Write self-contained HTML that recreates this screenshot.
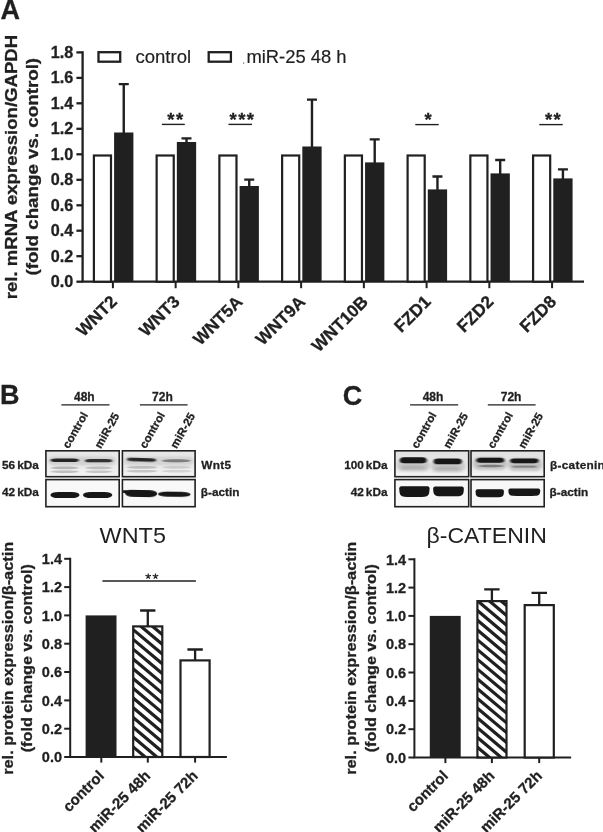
<!DOCTYPE html>
<html><head><meta charset="utf-8"><title>Figure</title>
<style>
html,body{margin:0;padding:0;background:#fff;}
body{width:603px;height:832px;overflow:hidden;font-family:"Liberation Sans",sans-serif;}
svg{display:block;position:absolute;left:0;top:0;}
text{font-family:"Liberation Sans",sans-serif;fill:#231f20;}
.b{font-weight:bold;stroke:#231f20;stroke-width:0.3px;}
svg{filter:grayscale(1);}
</style></head><body>
<svg width="603" height="832" viewBox="0 0 603 832">
<defs>
<filter id="bl1" x="-20%" y="-100%" width="140%" height="300%"><feGaussianBlur stdDeviation="1.1 0.7"/></filter>
<filter id="bl2" x="-20%" y="-100%" width="140%" height="300%"><feGaussianBlur stdDeviation="1.6 1.2"/></filter>
<filter id="bl3" x="-20%" y="-100%" width="140%" height="300%"><feGaussianBlur stdDeviation="0.7 0.5"/></filter>
<clipPath id="clipB"><rect x="45.9" y="450.8" width="73.3" height="25.9"/><rect x="122.4" y="450.8" width="72.7" height="25.9"/><rect x="45.9" y="479.6" width="73.3" height="26.9"/><rect x="122.4" y="479.6" width="72.7" height="26.9"/></clipPath>
<clipPath id="clipC"><rect x="394.9" y="450.8" width="73.8" height="25.9"/><rect x="471.0" y="450.8" width="73.2" height="25.9"/><rect x="394.9" y="479.6" width="73.8" height="26.9"/><rect x="471.0" y="479.6" width="73.2" height="26.9"/></clipPath>
<linearGradient id="gB" x1="0" y1="0" x2="0" y2="1"><stop offset="0" stop-color="#e6e6e6"/><stop offset="0.55" stop-color="#eaeaea"/><stop offset="1" stop-color="#f3f3f3"/></linearGradient>
<linearGradient id="gC" x1="0" y1="0" x2="0" y2="1"><stop offset="0" stop-color="#e2e2e2"/><stop offset="0.6" stop-color="#e6e6e6"/><stop offset="1" stop-color="#f6f6f6"/></linearGradient>
</defs>
<rect width="603" height="832" fill="#fff"/>

<text class="b" x="0.4" y="19.4" font-size="27">A</text>
<text class="b" font-size="16.5" textLength="264.3" lengthAdjust="spacingAndGlyphs" transform="translate(16.8 299.2) rotate(-90)">rel. mRNA expression/GAPDH</text>
<text class="b" font-size="16.5" textLength="217.7" lengthAdjust="spacingAndGlyphs" transform="translate(37.9 275.6) rotate(-90)">(fold change vs. control)</text>
<path d="M82.6 51.3 V281.7 H584" fill="none" stroke="#231f20" stroke-width="2.3" stroke-linejoin="miter"/>
<line x1="76.4" y1="281.7" x2="82.6" y2="281.7" stroke="#231f20" stroke-width="2.3"/>
<text class="b" font-size="16.2" text-anchor="end" x="73.3" y="287.2">0.0</text>
<line x1="76.4" y1="256.2" x2="82.6" y2="256.2" stroke="#231f20" stroke-width="2.3"/>
<text class="b" font-size="16.2" text-anchor="end" x="73.3" y="261.7">0.2</text>
<line x1="76.4" y1="230.7" x2="82.6" y2="230.7" stroke="#231f20" stroke-width="2.3"/>
<text class="b" font-size="16.2" text-anchor="end" x="73.3" y="236.2">0.4</text>
<line x1="76.4" y1="205.3" x2="82.6" y2="205.3" stroke="#231f20" stroke-width="2.3"/>
<text class="b" font-size="16.2" text-anchor="end" x="73.3" y="210.8">0.6</text>
<line x1="76.4" y1="179.8" x2="82.6" y2="179.8" stroke="#231f20" stroke-width="2.3"/>
<text class="b" font-size="16.2" text-anchor="end" x="73.3" y="185.3">0.8</text>
<line x1="76.4" y1="154.3" x2="82.6" y2="154.3" stroke="#231f20" stroke-width="2.3"/>
<text class="b" font-size="16.2" text-anchor="end" x="73.3" y="159.8">1.0</text>
<line x1="76.4" y1="128.8" x2="82.6" y2="128.8" stroke="#231f20" stroke-width="2.3"/>
<text class="b" font-size="16.2" text-anchor="end" x="73.3" y="134.3">1.2</text>
<line x1="76.4" y1="103.3" x2="82.6" y2="103.3" stroke="#231f20" stroke-width="2.3"/>
<text class="b" font-size="16.2" text-anchor="end" x="73.3" y="108.8">1.4</text>
<line x1="76.4" y1="77.9" x2="82.6" y2="77.9" stroke="#231f20" stroke-width="2.3"/>
<text class="b" font-size="16.2" text-anchor="end" x="73.3" y="83.4">1.6</text>
<line x1="76.4" y1="52.4" x2="82.6" y2="52.4" stroke="#231f20" stroke-width="2.3"/>
<text class="b" font-size="16.2" text-anchor="end" x="73.3" y="57.9">1.8</text>
<rect x="98.5" y="52.2" width="21.7" height="9.5" fill="#fff" stroke="#231f20" stroke-width="2.3"/>
<text font-size="18.5" x="135.5" y="62.7" stroke="#231f20" stroke-width="0.2">control</text>
<rect x="208.7" y="52.2" width="22.2" height="9.5" fill="#fff" stroke="#231f20" stroke-width="2.3"/>
<text font-size="18.4" x="246.4" y="62.7" stroke="#231f20" stroke-width="0.2">miR-25 48 h</text>
<rect x="243.2" y="62.6" width="1" height="1" fill="#231f20"/>
<rect x="93.90" y="155.50" width="17.10" height="126.20" fill="#fff" stroke="#231f20" stroke-width="2.2"/>
<rect x="114.10" y="132.50" width="19.30" height="149.20" fill="#231f20"/>
<path d="M123.75 133.50 V83.50 M118.75 84.10 H128.75" stroke="#231f20" stroke-width="2.4" fill="none"/>
<line x1="112.90" y1="281.7" x2="112.90" y2="288.2" stroke="#231f20" stroke-width="2"/>
<text class="b" font-size="17.3" text-anchor="end" transform="translate(118.10 302.8) rotate(-45)">WNT2</text>
<rect x="156.64" y="155.50" width="17.10" height="126.20" fill="#fff" stroke="#231f20" stroke-width="2.2"/>
<rect x="176.84" y="142.00" width="19.30" height="139.70" fill="#231f20"/>
<path d="M186.49 143.00 V137.80 M181.49 138.40 H191.49" stroke="#231f20" stroke-width="2.4" fill="none"/>
<line x1="175.64" y1="281.7" x2="175.64" y2="288.2" stroke="#231f20" stroke-width="2"/>
<text class="b" font-size="17.3" text-anchor="end" transform="translate(180.84 302.8) rotate(-45)">WNT3</text>
<rect x="219.38" y="155.50" width="17.10" height="126.20" fill="#fff" stroke="#231f20" stroke-width="2.2"/>
<rect x="239.58" y="186.00" width="19.30" height="95.70" fill="#231f20"/>
<path d="M249.23 187.00 V179.00 M244.23 179.60 H254.23" stroke="#231f20" stroke-width="2.4" fill="none"/>
<line x1="238.38" y1="281.7" x2="238.38" y2="288.2" stroke="#231f20" stroke-width="2"/>
<text class="b" font-size="17.3" text-anchor="end" transform="translate(243.58 302.8) rotate(-45)">WNT5A</text>
<rect x="282.12" y="155.50" width="17.10" height="126.20" fill="#fff" stroke="#231f20" stroke-width="2.2"/>
<rect x="302.32" y="146.50" width="19.30" height="135.20" fill="#231f20"/>
<path d="M311.97 147.50 V99.00 M306.97 99.60 H316.97" stroke="#231f20" stroke-width="2.4" fill="none"/>
<line x1="301.12" y1="281.7" x2="301.12" y2="288.2" stroke="#231f20" stroke-width="2"/>
<text class="b" font-size="17.3" text-anchor="end" transform="translate(306.32 302.8) rotate(-45)">WNT9A</text>
<rect x="344.86" y="155.50" width="17.10" height="126.20" fill="#fff" stroke="#231f20" stroke-width="2.2"/>
<rect x="365.06" y="162.40" width="19.30" height="119.30" fill="#231f20"/>
<path d="M374.71 163.40 V138.80 M369.71 139.40 H379.71" stroke="#231f20" stroke-width="2.4" fill="none"/>
<line x1="363.86" y1="281.7" x2="363.86" y2="288.2" stroke="#231f20" stroke-width="2"/>
<text class="b" font-size="17.3" text-anchor="end" transform="translate(369.06 302.8) rotate(-45)">WNT10B</text>
<rect x="407.60" y="155.50" width="17.10" height="126.20" fill="#fff" stroke="#231f20" stroke-width="2.2"/>
<rect x="427.80" y="189.40" width="19.30" height="92.30" fill="#231f20"/>
<path d="M437.45 190.40 V175.90 M432.45 176.50 H442.45" stroke="#231f20" stroke-width="2.4" fill="none"/>
<line x1="426.60" y1="281.7" x2="426.60" y2="288.2" stroke="#231f20" stroke-width="2"/>
<text class="b" font-size="17.3" text-anchor="end" transform="translate(431.80 302.8) rotate(-45)">FZD1</text>
<rect x="470.34" y="155.50" width="17.10" height="126.20" fill="#fff" stroke="#231f20" stroke-width="2.2"/>
<rect x="490.54" y="173.40" width="19.30" height="108.30" fill="#231f20"/>
<path d="M500.19 174.40 V159.40 M495.19 160.00 H505.19" stroke="#231f20" stroke-width="2.4" fill="none"/>
<line x1="489.34" y1="281.7" x2="489.34" y2="288.2" stroke="#231f20" stroke-width="2"/>
<text class="b" font-size="17.3" text-anchor="end" transform="translate(494.54 302.8) rotate(-45)">FZD2</text>
<rect x="533.08" y="155.50" width="17.10" height="126.20" fill="#fff" stroke="#231f20" stroke-width="2.2"/>
<rect x="553.28" y="178.40" width="19.30" height="103.30" fill="#231f20"/>
<path d="M562.93 179.40 V168.80 M557.93 169.40 H567.93" stroke="#231f20" stroke-width="2.4" fill="none"/>
<line x1="552.08" y1="281.7" x2="552.08" y2="288.2" stroke="#231f20" stroke-width="2"/>
<text class="b" font-size="17.3" text-anchor="end" transform="translate(557.28 302.8) rotate(-45)">FZD8</text>
<line x1="161.9" y1="124.4" x2="184.8" y2="124.4" stroke="#231f20" stroke-width="1.4"/>
<text class="b" font-size="18.5" letter-spacing="1.4" text-anchor="middle" x="175.9" y="125.5">**</text>
<line x1="228.5" y1="124.4" x2="252.0" y2="124.4" stroke="#231f20" stroke-width="1.4"/>
<text class="b" font-size="18.5" letter-spacing="1.4" text-anchor="middle" x="242.5" y="125.5">***</text>
<line x1="415.3" y1="124.6" x2="438.7" y2="124.6" stroke="#231f20" stroke-width="1.4"/>
<text class="b" font-size="18.5" letter-spacing="1.4" text-anchor="middle" x="428.9" y="125.5">*</text>
<line x1="539.3" y1="124.6" x2="562.7" y2="124.6" stroke="#231f20" stroke-width="1.4"/>
<text class="b" font-size="18.5" letter-spacing="1.4" text-anchor="middle" x="553.6" y="125.5">**</text>
<text class="b" x="0" y="404.3" font-size="27">B</text>
<text class="b" x="342.8" y="405.2" font-size="27">C</text>
<g transform="translate(0.0 0)">
<text class="b" font-size="12" text-anchor="middle" x="84.3" y="401.3">48h</text>
<line x1="61.4" y1="404.9" x2="109.5" y2="404.9" stroke="#231f20" stroke-width="1.3"/>
<text class="b" font-size="12" text-anchor="middle" x="162.4" y="401.3">72h</text>
<line x1="139.9" y1="404.9" x2="187.6" y2="404.9" stroke="#231f20" stroke-width="1.3"/>
<text class="b" font-size="11.3" textLength="39.5" lengthAdjust="spacingAndGlyphs" transform="translate(68.8 449.2) rotate(-60.5)">control</text>
<text class="b" font-size="11.3" textLength="38.5" lengthAdjust="spacingAndGlyphs" transform="translate(100.8 449.2) rotate(-60.5)">miR-25</text>
<text class="b" font-size="11.3" textLength="39.5" lengthAdjust="spacingAndGlyphs" transform="translate(145.8 449.2) rotate(-60.5)">control</text>
<text class="b" font-size="11.3" textLength="38.5" lengthAdjust="spacingAndGlyphs" transform="translate(176.5 449.2) rotate(-60.5)">miR-25</text>
<text class="b" font-size="11.8" text-anchor="end" word-spacing="-1.3" x="38.8" y="469.2">56 kDa</text>
<text class="b" font-size="11.8" text-anchor="end" word-spacing="-1.3" x="38.8" y="495.9">42 kDa</text>
<text class="b" font-size="11.8" letter-spacing="0.3" x="201.3" y="469.2">Wnt5</text>
<text class="b" font-size="11.8" x="200.8" y="495.9">β-actin</text>
</g>
<g transform="translate(348.7 0)">
<text class="b" font-size="12" text-anchor="middle" x="84.3" y="401.3">48h</text>
<line x1="61.4" y1="404.9" x2="109.5" y2="404.9" stroke="#231f20" stroke-width="1.3"/>
<text class="b" font-size="12" text-anchor="middle" x="162.4" y="401.3">72h</text>
<line x1="139.1" y1="404.9" x2="186.9" y2="404.9" stroke="#231f20" stroke-width="1.3"/>
<text class="b" font-size="11.3" textLength="39.5" lengthAdjust="spacingAndGlyphs" transform="translate(68.8 449.2) rotate(-60.5)">control</text>
<text class="b" font-size="11.3" textLength="38.5" lengthAdjust="spacingAndGlyphs" transform="translate(100.8 449.2) rotate(-60.5)">miR-25</text>
<text class="b" font-size="11.3" textLength="39.5" lengthAdjust="spacingAndGlyphs" transform="translate(145.1 449.2) rotate(-60.5)">control</text>
<text class="b" font-size="11.3" textLength="38.5" lengthAdjust="spacingAndGlyphs" transform="translate(175.8 449.2) rotate(-60.5)">miR-25</text>
<text class="b" font-size="11.8" text-anchor="end" word-spacing="-1.3" x="38.8" y="469.2">100 kDa</text>
<text class="b" font-size="11.8" text-anchor="end" word-spacing="-1.3" x="38.8" y="495.9">42 kDa</text>
<text class="b" font-size="11.8" letter-spacing="0.3" x="201.3" y="469.2">β-catenin</text>
<text class="b" font-size="11.8" x="200.8" y="495.9">β-actin</text>
</g>
<rect x="45.9" y="450.8" width="73.3" height="25.9" fill="url(#gB)"/>
<rect x="122.4" y="450.8" width="72.7" height="25.9" fill="url(#gB)"/>
<rect x="45.9" y="479.6" width="73.3" height="27.1" fill="#f8f8f8"/>
<rect x="122.4" y="479.6" width="72.7" height="27.1" fill="#f8f8f8"/>
<g clip-path="url(#clipB)">
<rect x="48.0" y="456.5" width="68.0" height="9.0" rx="6.0" ry="4.5" fill="#000" opacity="0.10" filter="url(#bl2)"/>
<rect x="124.0" y="456.5" width="70.0" height="9.0" rx="6.0" ry="4.5" fill="#000" opacity="0.09" filter="url(#bl2)"/>
<rect x="50.6" y="458.5" width="28.2" height="3.6" rx="5.0" ry="1.8" fill="#151515" opacity="0.92" filter="url(#bl1)"/>
<rect x="85.0" y="459.0" width="27.2" height="3.3" rx="5.0" ry="1.6" fill="#151515" opacity="0.85" filter="url(#bl1)"/>
<rect x="127.0" y="458.0" width="29.2" height="3.4" rx="5.0" ry="1.7" fill="#151515" opacity="0.92" filter="url(#bl1)" transform="rotate(1.80 141.6 459.7)"/>
<rect x="161.8" y="459.2" width="28.7" height="3.0" rx="9.0" ry="1.5" fill="#151515" opacity="0.45" filter="url(#bl1)"/>
<rect x="51.0" y="466.6" width="27.5" height="2.6" rx="8.6" ry="1.3" fill="#222" opacity="0.26" filter="url(#bl1)"/>
<rect x="51.0" y="470.4" width="27.5" height="2.6" rx="8.6" ry="1.3" fill="#222" opacity="0.23" filter="url(#bl1)"/>
<rect x="85.5" y="466.6" width="26.5" height="2.6" rx="8.3" ry="1.3" fill="#222" opacity="0.22" filter="url(#bl1)"/>
<rect x="85.5" y="470.4" width="26.5" height="2.6" rx="8.3" ry="1.3" fill="#222" opacity="0.20" filter="url(#bl1)"/>
<rect x="127.0" y="466.1" width="30.0" height="2.6" rx="9.0" ry="1.3" fill="#222" opacity="0.22" filter="url(#bl1)"/>
<rect x="127.0" y="469.9" width="30.0" height="2.6" rx="9.0" ry="1.3" fill="#222" opacity="0.20" filter="url(#bl1)"/>
<rect x="162.5" y="466.1" width="28.5" height="2.6" rx="8.9" ry="1.3" fill="#222" opacity="0.14" filter="url(#bl1)"/>
<rect x="162.5" y="469.9" width="28.5" height="2.6" rx="8.9" ry="1.3" fill="#222" opacity="0.13" filter="url(#bl1)"/>
<rect x="50.4" y="491.9" width="29.1" height="6.2" rx="8.0" ry="3.1" fill="#151515" opacity="1.00" filter="url(#bl3)"/>
<rect x="83.0" y="491.9" width="29.3" height="6.2" rx="8.0" ry="3.1" fill="#151515" opacity="1.00" filter="url(#bl3)"/>
<rect x="125.0" y="490.1" width="32.2" height="6.8" rx="8.0" ry="3.4" fill="#151515" opacity="1.00" filter="url(#bl3)" transform="rotate(1.00 141.1 493.5)"/>
<rect x="122.0" y="490.3" width="12.0" height="2.6" rx="2.0" ry="1.3" fill="#151515" opacity="1.00" filter="url(#bl3)"/>
<rect x="158.0" y="491.8" width="32.6" height="5.0" rx="9.0" ry="2.5" fill="#151515" opacity="1.00" filter="url(#bl3)" transform="rotate(0.80 174.3 494.3)"/>
</g>
<rect x="45.9" y="450.8" width="73.3" height="25.9" fill="none" stroke="#231f20" stroke-width="1.6"/>
<rect x="122.4" y="450.8" width="72.7" height="25.9" fill="none" stroke="#231f20" stroke-width="1.6"/>
<rect x="45.9" y="479.6" width="73.3" height="27.1" fill="none" stroke="#231f20" stroke-width="1.6"/>
<rect x="122.4" y="479.6" width="72.7" height="27.1" fill="none" stroke="#231f20" stroke-width="1.6"/>
<rect x="394.9" y="450.8" width="73.8" height="25.9" fill="url(#gC)"/>
<rect x="471.0" y="450.8" width="73.2" height="25.9" fill="url(#gC)"/>
<rect x="394.9" y="479.6" width="73.8" height="27.1" fill="#f8f8f8"/>
<rect x="471.0" y="479.6" width="73.2" height="27.1" fill="#f8f8f8"/>
<g clip-path="url(#clipC)">
<rect x="397.0" y="459.5" width="33.0" height="12.0" rx="6.0" ry="6.0" fill="#000" opacity="0.13" filter="url(#bl2)"/>
<rect x="431.0" y="460.5" width="34.0" height="12.0" rx="6.0" ry="6.0" fill="#000" opacity="0.13" filter="url(#bl2)"/>
<rect x="473.0" y="457.0" width="34.0" height="13.0" rx="6.0" ry="6.5" fill="#000" opacity="0.16" filter="url(#bl2)"/>
<rect x="508.0" y="458.0" width="34.0" height="13.0" rx="6.0" ry="6.5" fill="#000" opacity="0.16" filter="url(#bl2)"/>
<rect x="399.8" y="457.3" width="26.8" height="6.0" rx="4.0" ry="3.0" fill="#151515" opacity="1.00" filter="url(#bl1)"/>
<rect x="433.6" y="458.6" width="28.2" height="5.6" rx="4.0" ry="2.8" fill="#151515" opacity="1.00" filter="url(#bl1)"/>
<rect x="400.0" y="465.6" width="26.0" height="4.0" rx="8.1" ry="2.0" fill="#000" opacity="0.12" filter="url(#bl2)"/>
<rect x="434.0" y="466.6" width="27.0" height="4.0" rx="8.4" ry="2.0" fill="#000" opacity="0.12" filter="url(#bl2)"/>
<rect x="476.4" y="457.8" width="27.8" height="5.0" rx="4.0" ry="2.5" fill="#151515" opacity="1.00" filter="url(#bl1)"/>
<rect x="510.2" y="458.4" width="28.3" height="4.8" rx="4.0" ry="2.4" fill="#151515" opacity="1.00" filter="url(#bl1)"/>
<rect x="478.0" y="464.8" width="25.5" height="2.4" rx="8.0" ry="1.2" fill="#111" opacity="0.38" filter="url(#bl1)"/>
<rect x="511.5" y="465.4" width="26.0" height="2.4" rx="8.1" ry="1.2" fill="#111" opacity="0.34" filter="url(#bl1)"/>
<path d="M399.3 488.3 Q399.3 486.3 401.3 486.3 H427.5 Q429.5 486.3 429.5 488.3 C429.5 495.8 428.0 496.9 422.3 496.9 H406.5 C400.8 496.9 399.3 495.8 399.3 488.3 Z" fill="#151515" opacity="1.00" filter="url(#bl3)"/>
<path d="M433.2 488.5 Q433.2 486.5 435.2 486.5 H461.8 Q463.8 486.5 463.8 488.5 C463.8 495.2 462.3 496.2 456.5 496.2 H440.5 C434.7 496.2 433.2 495.2 433.2 488.5 Z" fill="#151515" opacity="1.00" filter="url(#bl3)"/>
<path d="M475.6 491.2 Q475.6 489.2 477.6 489.2 H501.9 Q503.9 489.2 503.9 491.2 C503.9 496.4 502.5 497.2 497.1 497.2 H482.4 C477.0 497.2 475.6 496.4 475.6 491.2 Z" fill="#151515" opacity="1.00" filter="url(#bl3)"/>
<path d="M508.4 490.6 Q508.4 488.6 510.4 488.6 H538.2 Q540.2 488.6 540.2 490.6 C540.2 495.3 538.6 496.0 532.6 496.0 H516.0 C510.0 496.0 508.4 495.3 508.4 490.6 Z" fill="#151515" opacity="1.00" filter="url(#bl3)"/>
</g>
<rect x="394.9" y="450.8" width="73.8" height="25.9" fill="none" stroke="#231f20" stroke-width="1.6"/>
<rect x="471.0" y="450.8" width="73.2" height="25.9" fill="none" stroke="#231f20" stroke-width="1.6"/>
<rect x="394.9" y="479.6" width="73.8" height="27.1" fill="none" stroke="#231f20" stroke-width="1.6"/>
<rect x="471.0" y="479.6" width="73.2" height="27.1" fill="none" stroke="#231f20" stroke-width="1.6"/>
<text font-size="22" x="99.6" y="542.8" textLength="66.3" lengthAdjust="spacingAndGlyphs">WNT5</text>
<text class="b" font-size="15" textLength="233" lengthAdjust="spacingAndGlyphs" transform="translate(12.8 774.8) rotate(-90)">rel. protein expression/β-actin</text>
<text class="b" font-size="15" textLength="188.1" lengthAdjust="spacingAndGlyphs" transform="translate(31.7 752.3) rotate(-90)">(fold change vs. control)</text>
<path d="M70.2 557.8 V757.0 H226.9" fill="none" stroke="#231f20" stroke-width="2"/>
<line x1="64.2" y1="757.0" x2="70.2" y2="757.0" stroke="#231f20" stroke-width="2"/>
<text class="b" font-size="14.5" text-anchor="end" x="62.0" y="762.2">0.0</text>
<line x1="64.2" y1="728.7" x2="70.2" y2="728.7" stroke="#231f20" stroke-width="2"/>
<text class="b" font-size="14.5" text-anchor="end" x="62.0" y="733.9">0.2</text>
<line x1="64.2" y1="700.4" x2="70.2" y2="700.4" stroke="#231f20" stroke-width="2"/>
<text class="b" font-size="14.5" text-anchor="end" x="62.0" y="705.6">0.4</text>
<line x1="64.2" y1="672.0" x2="70.2" y2="672.0" stroke="#231f20" stroke-width="2"/>
<text class="b" font-size="14.5" text-anchor="end" x="62.0" y="677.2">0.6</text>
<line x1="64.2" y1="643.7" x2="70.2" y2="643.7" stroke="#231f20" stroke-width="2"/>
<text class="b" font-size="14.5" text-anchor="end" x="62.0" y="648.9">0.8</text>
<line x1="64.2" y1="615.4" x2="70.2" y2="615.4" stroke="#231f20" stroke-width="2"/>
<text class="b" font-size="14.5" text-anchor="end" x="62.0" y="620.6">1.0</text>
<line x1="64.2" y1="587.1" x2="70.2" y2="587.1" stroke="#231f20" stroke-width="2"/>
<text class="b" font-size="14.5" text-anchor="end" x="62.0" y="592.3">1.2</text>
<line x1="64.2" y1="558.8" x2="70.2" y2="558.8" stroke="#231f20" stroke-width="2"/>
<text class="b" font-size="14.5" text-anchor="end" x="62.0" y="564.0">1.4</text>
<rect x="85.6" y="615.4" width="30.9" height="141.6" fill="#231f20"/>
<rect x="133.2" y="626.4" width="29.1" height="130.6" fill="#fff"/>
<clipPath id="hchatch"><rect x="133.2" y="626.4" width="29.1" height="130.6"/></clipPath>
<g clip-path="url(#hchatch)" stroke="#231f20" stroke-width="3.2" fill="none">
<line x1="124.2" y1="563.49" x2="174.2" y2="605.44"/>
<line x1="124.2" y1="573.26" x2="174.2" y2="615.21"/>
<line x1="124.2" y1="583.03" x2="174.2" y2="624.98"/>
<line x1="124.2" y1="592.80" x2="174.2" y2="634.75"/>
<line x1="124.2" y1="602.57" x2="174.2" y2="644.52"/>
<line x1="124.2" y1="612.34" x2="174.2" y2="654.29"/>
<line x1="124.2" y1="622.11" x2="174.2" y2="664.06"/>
<line x1="124.2" y1="631.88" x2="174.2" y2="673.83"/>
<line x1="124.2" y1="641.65" x2="174.2" y2="683.60"/>
<line x1="124.2" y1="651.42" x2="174.2" y2="693.37"/>
<line x1="124.2" y1="661.19" x2="174.2" y2="703.14"/>
<line x1="124.2" y1="670.96" x2="174.2" y2="712.91"/>
<line x1="124.2" y1="680.73" x2="174.2" y2="722.68"/>
<line x1="124.2" y1="690.50" x2="174.2" y2="732.45"/>
<line x1="124.2" y1="700.27" x2="174.2" y2="742.22"/>
<line x1="124.2" y1="710.04" x2="174.2" y2="751.99"/>
<line x1="124.2" y1="719.81" x2="174.2" y2="761.76"/>
<line x1="124.2" y1="729.58" x2="174.2" y2="771.53"/>
<line x1="124.2" y1="739.35" x2="174.2" y2="781.30"/>
<line x1="124.2" y1="749.12" x2="174.2" y2="791.07"/>
<line x1="124.2" y1="758.89" x2="174.2" y2="800.84"/>
<line x1="124.2" y1="768.66" x2="174.2" y2="810.61"/>
<line x1="124.2" y1="778.43" x2="174.2" y2="820.38"/>
</g>
<rect x="133.2" y="626.4" width="29.1" height="130.6" fill="none" stroke="#231f20" stroke-width="2.2"/>
<rect x="180.5" y="660.4" width="29.1" height="96.6" fill="#fff" stroke="#231f20" stroke-width="2.2"/>
<path d="M147.8 626.3 V609.7 M140.1 610.5 H155.4" stroke="#231f20" stroke-width="2.3" fill="none"/>
<path d="M195.1 660.3 V648.7 M187.4 649.5 H202.8" stroke="#231f20" stroke-width="2.3" fill="none"/>
<line x1="101.3" y1="757.0" x2="101.3" y2="762.6" stroke="#231f20" stroke-width="2"/>
<text class="b" font-size="15" text-anchor="end" transform="translate(104.9 776.8) rotate(-45)">control</text>
<line x1="147.8" y1="757.0" x2="147.8" y2="762.6" stroke="#231f20" stroke-width="2"/>
<text class="b" font-size="15" text-anchor="end" transform="translate(151.3 776.8) rotate(-45)">miR-25 48h</text>
<line x1="195.1" y1="757.0" x2="195.1" y2="762.6" stroke="#231f20" stroke-width="2"/>
<text class="b" font-size="15" text-anchor="end" transform="translate(198.7 776.8) rotate(-45)">miR-25 72h</text>
<line x1="102.4" y1="581.0" x2="195.9" y2="581.0" stroke="#231f20" stroke-width="1.4"/>
<path d="M148.20 576.30L148.20 573.40M148.20 576.30L150.96 575.40M148.20 576.30L149.90 578.65M148.20 576.30L146.50 578.65M148.20 576.30L145.44 575.40" stroke="#231f20" stroke-width="1.15" fill="none"/>
<path d="M155.50 576.30L155.50 573.40M155.50 576.30L158.26 575.40M155.50 576.30L157.20 578.65M155.50 576.30L153.80 578.65M155.50 576.30L152.74 575.40" stroke="#231f20" stroke-width="1.15" fill="none"/>
<text font-size="22" x="426.6" y="542.8" textLength="120.2" lengthAdjust="spacingAndGlyphs">β-CATENIN</text>
<text class="b" font-size="15" textLength="233" lengthAdjust="spacingAndGlyphs" transform="translate(356.4 774.8) rotate(-90)">rel. protein expression/β-actin</text>
<text class="b" font-size="15" textLength="188.1" lengthAdjust="spacingAndGlyphs" transform="translate(375.5 752.3) rotate(-90)">(fold change vs. control)</text>
<path d="M414.4 558.3 V757.5 H571.1" fill="none" stroke="#231f20" stroke-width="2"/>
<line x1="408.4" y1="757.5" x2="414.4" y2="757.5" stroke="#231f20" stroke-width="2"/>
<text class="b" font-size="14.5" text-anchor="end" x="406.2" y="762.7">0.0</text>
<line x1="408.4" y1="729.2" x2="414.4" y2="729.2" stroke="#231f20" stroke-width="2"/>
<text class="b" font-size="14.5" text-anchor="end" x="406.2" y="734.4">0.2</text>
<line x1="408.4" y1="700.9" x2="414.4" y2="700.9" stroke="#231f20" stroke-width="2"/>
<text class="b" font-size="14.5" text-anchor="end" x="406.2" y="706.1">0.4</text>
<line x1="408.4" y1="672.5" x2="414.4" y2="672.5" stroke="#231f20" stroke-width="2"/>
<text class="b" font-size="14.5" text-anchor="end" x="406.2" y="677.7">0.6</text>
<line x1="408.4" y1="644.2" x2="414.4" y2="644.2" stroke="#231f20" stroke-width="2"/>
<text class="b" font-size="14.5" text-anchor="end" x="406.2" y="649.4">0.8</text>
<line x1="408.4" y1="615.9" x2="414.4" y2="615.9" stroke="#231f20" stroke-width="2"/>
<text class="b" font-size="14.5" text-anchor="end" x="406.2" y="621.1">1.0</text>
<line x1="408.4" y1="587.6" x2="414.4" y2="587.6" stroke="#231f20" stroke-width="2"/>
<text class="b" font-size="14.5" text-anchor="end" x="406.2" y="592.8">1.2</text>
<line x1="408.4" y1="559.3" x2="414.4" y2="559.3" stroke="#231f20" stroke-width="2"/>
<text class="b" font-size="14.5" text-anchor="end" x="406.2" y="564.5">1.4</text>
<rect x="429.8" y="615.9" width="30.9" height="141.6" fill="#231f20"/>
<rect x="477.4" y="601.1" width="29.1" height="156.4" fill="#fff"/>
<clipPath id="hchatchC"><rect x="477.4" y="601.1" width="29.1" height="156.4"/></clipPath>
<g clip-path="url(#hchatchC)" stroke="#231f20" stroke-width="3.2" fill="none">
<line x1="468.3" y1="544.24" x2="518.3" y2="586.19"/>
<line x1="468.3" y1="554.01" x2="518.3" y2="595.96"/>
<line x1="468.3" y1="563.78" x2="518.3" y2="605.73"/>
<line x1="468.3" y1="573.55" x2="518.3" y2="615.50"/>
<line x1="468.3" y1="583.32" x2="518.3" y2="625.27"/>
<line x1="468.3" y1="593.09" x2="518.3" y2="635.04"/>
<line x1="468.3" y1="602.86" x2="518.3" y2="644.81"/>
<line x1="468.3" y1="612.63" x2="518.3" y2="654.58"/>
<line x1="468.3" y1="622.40" x2="518.3" y2="664.35"/>
<line x1="468.3" y1="632.17" x2="518.3" y2="674.12"/>
<line x1="468.3" y1="641.94" x2="518.3" y2="683.89"/>
<line x1="468.3" y1="651.71" x2="518.3" y2="693.66"/>
<line x1="468.3" y1="661.48" x2="518.3" y2="703.43"/>
<line x1="468.3" y1="671.25" x2="518.3" y2="713.20"/>
<line x1="468.3" y1="681.02" x2="518.3" y2="722.97"/>
<line x1="468.3" y1="690.79" x2="518.3" y2="732.74"/>
<line x1="468.3" y1="700.56" x2="518.3" y2="742.51"/>
<line x1="468.3" y1="710.33" x2="518.3" y2="752.28"/>
<line x1="468.3" y1="720.10" x2="518.3" y2="762.05"/>
<line x1="468.3" y1="729.87" x2="518.3" y2="771.82"/>
<line x1="468.3" y1="739.64" x2="518.3" y2="781.59"/>
<line x1="468.3" y1="749.41" x2="518.3" y2="791.36"/>
<line x1="468.3" y1="759.18" x2="518.3" y2="801.13"/>
<line x1="468.3" y1="768.95" x2="518.3" y2="810.90"/>
<line x1="468.3" y1="778.72" x2="518.3" y2="820.67"/>
</g>
<rect x="477.4" y="601.1" width="29.1" height="156.4" fill="none" stroke="#231f20" stroke-width="2.2"/>
<rect x="524.7" y="605.1" width="29.1" height="152.4" fill="#fff" stroke="#231f20" stroke-width="2.2"/>
<path d="M491.9 601.0 V588.6 M484.2 589.4 H499.6" stroke="#231f20" stroke-width="2.3" fill="none"/>
<path d="M539.2 605.0 V592.1 M531.5 592.9 H547.0" stroke="#231f20" stroke-width="2.3" fill="none"/>
<line x1="445.4" y1="757.5" x2="445.4" y2="763.1" stroke="#231f20" stroke-width="2"/>
<text class="b" font-size="15" text-anchor="end" transform="translate(449.0 776.8) rotate(-45)">control</text>
<line x1="491.9" y1="757.5" x2="491.9" y2="763.1" stroke="#231f20" stroke-width="2"/>
<text class="b" font-size="15" text-anchor="end" transform="translate(495.5 776.8) rotate(-45)">miR-25 48h</text>
<line x1="539.2" y1="757.5" x2="539.2" y2="763.1" stroke="#231f20" stroke-width="2"/>
<text class="b" font-size="15" text-anchor="end" transform="translate(542.9 776.8) rotate(-45)">miR-25 72h</text>
</svg></body></html>
